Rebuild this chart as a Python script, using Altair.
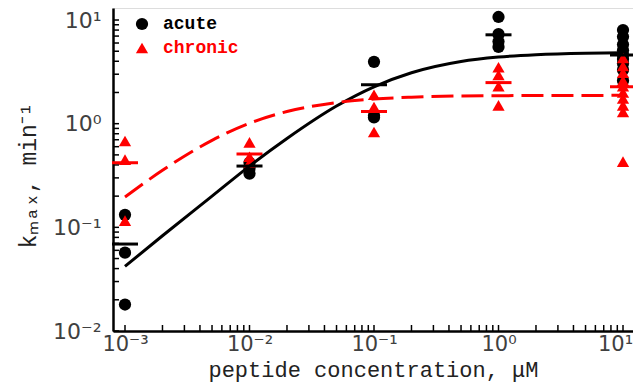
import altair as alt
import pandas as pd

# ---------------- data ----------------
concentrations = [0.001, 0.01, 0.1, 1.0, 10.0]

acute_values = [
    [0.132, 0.057, 0.018],
    [0.42, 0.37, 0.33],
    [3.95, 1.2, 1.15],
    [10.7, 7.3, 6.2, 5.5],
    [8.0, 6.9, 5.8, 5.1, 4.6, 4.2, 3.8, 3.3, 2.6],
]
chronic_values = [
    [0.68, 0.45, 0.116],
    [0.66, 0.48, 0.42],
    [1.9, 1.45, 0.83],
    [3.5, 2.95, 2.3, 1.5],
    [4.3, 3.6, 3.1, 2.6, 2.3, 2.0, 1.75, 1.5, 1.3, 0.43],
]
acute_means = [0.069, 0.39, 2.38, 7.2, 4.6]
chronic_means = [0.42, 0.51, 1.31, 2.49, 2.27]

fit_x = [0.001, 0.002, 0.005, 0.01, 0.02, 0.05, 0.1, 0.2, 0.5, 1, 2, 5, 10]
acute_fit = [0.042, 0.083, 0.20, 0.39, 0.72, 1.48, 2.27, 3.1, 3.98, 4.39, 4.63, 4.79, 4.84]
chronic_fit = [0.196, 0.355, 0.69, 1.01, 1.31, 1.60, 1.73, 1.80, 1.85, 1.86, 1.87, 1.87, 1.88]

series_names = ["acute", "chronic"]
series_colors = ["#000000", "#ff0000"]
series_shapes = ["circle", "triangle-up"]

x_major = [0.001, 0.01, 0.1, 1, 10]
x_labels = ["10⁻³", "10⁻²", "10⁻¹", "10⁰", "10¹"]
y_major = [0.01, 0.1, 1, 10]
y_labels = ["10⁻²", "10⁻¹", "10⁰", "10¹"]
x_minor = [m * 10.0 ** k for k in range(-3, 1) for m in range(1, 10)] + [10.0]
y_minor = [m * 10.0 ** k for k in range(-2, 1) for m in range(1, 10)] + [10.0]

x_title = "peptide concentration, μM"
y_title = "kₘₐₓ, min⁻¹"

# ---------------- tables ----------------
rows = []
for name, groups in (("acute", acute_values), ("chronic", chronic_values)):
    for c, vals in zip(concentrations, groups):
        for v in vals:
            rows.append({"conc": c, "k": v, "series": name})
points_df = pd.DataFrame(rows)
acute_mean_df = pd.DataFrame({"conc": concentrations, "k": acute_means})
chronic_mean_df = pd.DataFrame({"conc": concentrations, "k": chronic_means})
acute_fit_df = pd.DataFrame({"conc": fit_x, "k": acute_fit})
chronic_fit_df = pd.DataFrame({"conc": fit_x, "k": chronic_fit})
xtick_df = pd.DataFrame({"conc": x_minor})
ytick_df = pd.DataFrame({"k": y_minor})

W, H = 520, 323
xscale = alt.Scale(type="log", domain=[0.000801, 12.03], nice=False)
yscale = alt.Scale(type="log", domain=[0.01, 13.06], nice=False)


def lab_expr(vals, labels):
    parts = []
    for v, l in zip(vals, labels):
        parts.append(f"abs(datum.value - {v}) < {v * 0.01} ? '{l}'")
    return " : ".join(parts) + " : ''"


xaxis = alt.Axis(
    values=x_major, labelExpr=lab_expr(x_major, x_labels), title=x_title,
    ticks=False, grid=False, labelPadding=2,
    labelOffset={"condition": {"test": "datum.value > 5", "value": -8}, "value": 0},
    titleY=45, titleBaseline="alphabetic",
    labelFont="DejaVu Sans", labelFontSize=21, labelColor="#404040",
    titleFont="Liberation Mono", titleFontSize=22, titleFontWeight="normal",
    titleColor="#222222", domainColor="#000000", domainWidth=2.5,
    labelFlush=False, labelOverlap=False,
)
yaxis = alt.Axis(
    values=y_major, labelExpr=lab_expr(y_major, y_labels), title=y_title,
    ticks=False, grid=False, labelPadding=12,
    titleX=-85, titleY=167, titleBaseline="middle", titleAlign="center",
    labelFont="DejaVu Sans", labelFontSize=22, labelColor="#404040",
    titleFont="Liberation Mono", titleFontSize=23, titleFontWeight="normal",
    titleColor="#222222", domainColor="#000000", domainWidth=2.5,
    labelFlush=False, labelOverlap=False,
)


def X(field="conc"):
    return alt.X(field, type="quantitative", scale=xscale, axis=xaxis)


def Y(field="k"):
    return alt.Y(field, type="quantitative", scale=yscale, axis=yaxis)


legend = alt.Legend(
    title=None, orient="none", legendX=20, legendY=7, padding=0,
    labelFont="Liberation Mono", labelFontSize=18, labelFontWeight="bold",
    labelColor=alt.ExprRef(expr="datum.label == 'chronic' ? '#ff0000' : '#000000'"),
    labelOffset=12, rowPadding=6, symbolSize=150, symbolStrokeWidth=0,
)

pts = alt.Chart(points_df).mark_point(filled=True, opacity=1, size=150, strokeWidth=0).encode(
    x=X(), y=Y(),
    color=alt.Color("series:N", scale=alt.Scale(domain=series_names, range=series_colors), legend=legend),
    shape=alt.Shape("series:N", scale=alt.Scale(domain=series_names, range=series_shapes), legend=legend),
)

acute_mean = alt.Chart(acute_mean_df).mark_tick(orient="horizontal", size=26, thickness=3, color="#000000", opacity=1).encode(x=X(), y=Y())
chronic_mean = alt.Chart(chronic_mean_df).mark_tick(orient="horizontal", size=26, thickness=3, color="#ff0000", opacity=1).encode(x=X(), y=Y())

acute_line = alt.Chart(acute_fit_df).mark_line(color="#000000", strokeWidth=3, interpolate="monotone").encode(x=X(), y=Y())
chronic_line = alt.Chart(chronic_fit_df).mark_line(color="#ff0000", strokeWidth=3, strokeDash=[22, 8], interpolate="monotone").encode(x=X(), y=Y())

xticks = alt.Chart(xtick_df).mark_rule(color="#000000", strokeWidth=1.5).encode(
    x=X(), y=alt.value(H), y2=alt.value(H - 6)
)
yticks = alt.Chart(ytick_df).mark_rule(color="#000000", strokeWidth=1.5).encode(
    y=Y(), x=alt.value(0), x2=alt.value(6)
)

chart = alt.layer(xticks, yticks, pts, acute_mean, chronic_mean, acute_line, chronic_line).properties(
    width=W, height=H,
    autosize=alt.AutoSizeParams(type="none"),
    padding={"left": 105, "top": 0, "right": 0, "bottom": 52},
).configure_view(stroke=None).configure(background="white")

chart.save("out.html", embed_options={"renderer": "svg", "actions": False})
